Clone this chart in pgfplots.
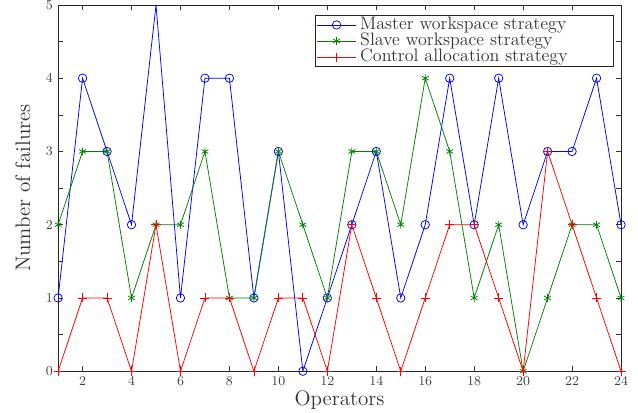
\documentclass[border=0pt]{standalone}
\usepackage{pgfplots}
\pgfplotsset{compat=1.18}
\definecolor{mblue}{rgb}{0,0,1}
\definecolor{mgreen}{rgb}{0,0.5,0}
\definecolor{mred}{rgb}{1,0,0}
\begin{document}
\begin{tikzpicture}
\useasboundingbox (-38.7pt,-27.3pt) rectangle (386.3pt,247.3pt);
\begin{axis}[
  at={(0,0)}, anchor=south west,
  scale only axis,
  width=375pt, height=244pt,
  xmin=1, xmax=24, ymin=0, ymax=5,
  xtick={2,4,...,24},
  ytick={0,1,2,3,4,5},
  minor ytick={0.5,1.5,2.5,3.5,4.5},
  tick align=inside,
  major tick length=3.5pt, minor tick length=3.5pt,
  tick style={black!80, line width=0.4pt},
  tick label style={font=\fontsize{9.5}{10}\selectfont, text=black!75},
  label style={font=\fontsize{14}{14}\selectfont, text=black!80},
  xlabel={Operators},
  ylabel={Number of failures},
  xlabel style={at={(axis description cs:0.5,0)}, anchor=base, yshift=-22.7pt},
  ylabel style={at={(axis description cs:-0.0627,0.5)}, anchor=center},
  axis line style={black!85, line width=0.5pt},
  legend style={at={(axis description cs:1,1)}, xshift=-4.7pt, yshift=-6.7pt,
    anchor=north east, draw=black!85, line width=0.5pt,
    font=\fontsize{12}{12}\selectfont, text=black!80, row sep=0pt, inner sep=1pt,
    nodes={text height=8.3pt, text depth=2.4pt, inner ysep=0pt, inner xsep=2.5pt}},
  legend cell align=left,
  legend image code/.code={\draw[mark indices={2}] plot coordinates {(0pt,0pt) (13pt,0pt) (26pt,0pt)};},
  every axis plot/.append style={line width=0.5pt},
]
\addplot[mblue, mark=o, mark size=2.8pt, mark indices={1,2,3,4,6,7,8,9,10,11,12,13,14,15,16,17,18,19,20,21,22,23,24}] coordinates {
(1,1) (2,4) (3,3) (4,2) (5,5) (6,1) (7,4) (8,4) (9,1) (10,3) (11,0) (12,1)
(13,2) (14,3) (15,1) (16,2) (17,4) (18,2) (19,4) (20,2) (21,3) (22,3) (23,4) (24,2)};
\addlegendentry{Master workspace strategy\hspace*{28pt}}
\addplot[mgreen, mark=asterisk, mark size=2.6pt] coordinates {
(1,2) (2,3) (3,3) (4,1) (5,2) (6,2) (7,3) (8,1) (9,1) (10,3) (11,2) (12,1)
(13,3) (14,3) (15,2) (16,4) (17,3) (18,1) (19,2) (20,0) (21,1) (22,2) (23,2) (24,1)};
\addlegendentry{Slave workspace strategy}
\addplot[mred, mark=+, mark size=3pt] coordinates {
(1,0) (2,1) (3,1) (4,0) (5,2) (6,0) (7,1) (8,1) (9,0) (10,1) (11,1) (12,0)
(13,2) (14,1) (15,0) (16,1) (17,2) (18,2) (19,1) (20,0) (21,3) (22,2) (23,1) (24,0)};
\addlegendentry{Control allocation strategy}
\end{axis}
\end{tikzpicture}
\end{document}
